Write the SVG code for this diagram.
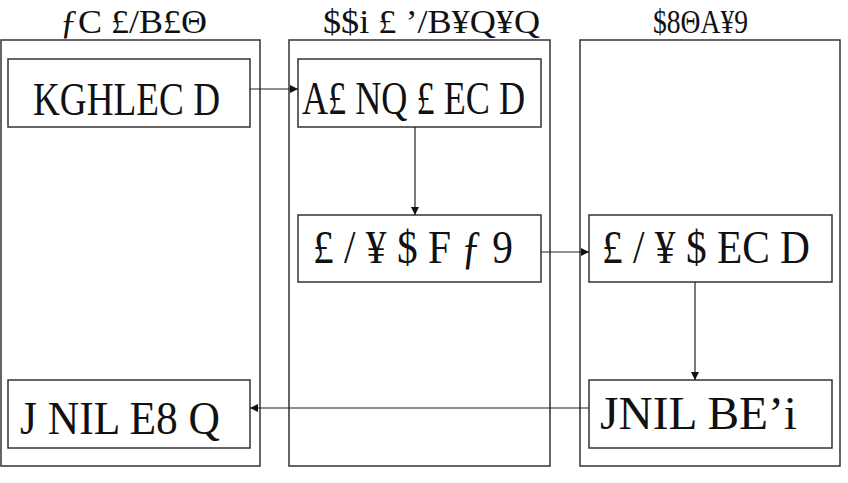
<svg xmlns="http://www.w3.org/2000/svg" width="848" height="483" viewBox="0 0 848 483">
<style>
.lane{fill:none;stroke:#333;stroke-width:1.5}
.box{fill:#fff;stroke:#333;stroke-width:1.5}
.t{font-family:"Liberation Serif","DejaVu Serif",serif;fill:#111}
.h{font-size:33px}
.n{font-size:46px}
.c{fill:none;stroke:#222;stroke-width:1.2}
</style>
<defs>
<marker id="ah" viewBox="0 0 10 10" refX="10" refY="5" markerWidth="8" markerHeight="8" markerUnits="userSpaceOnUse" orient="auto">
<path d="M0,0 L10,5 L0,10 z" fill="#111"/>
</marker>
</defs>
<g id="lanes">
<rect class="lane" x="1" y="40" width="259" height="426"/>
<rect class="lane" x="289" y="40" width="261" height="426"/>
<rect class="lane" x="580" y="40" width="260" height="426"/>
<text class="t h" x="60" y="33" textLength="147" lengthAdjust="spacingAndGlyphs">ƒC £/B£Θ</text>
<text class="t h" x="323" y="33" textLength="217" lengthAdjust="spacingAndGlyphs">$$i £  ’/B¥Q¥Q</text>
<text class="t h" x="653" y="33" textLength="95" lengthAdjust="spacingAndGlyphs">$8ΘA¥9</text>
</g>
<g id="n1"><rect class="box" x="8" y="59" width="242" height="68"/><text class="t n" x="33" y="115" textLength="187" lengthAdjust="spacingAndGlyphs">KGHLEC D</text></g>
<g id="n2"><rect class="box" x="298" y="59" width="243" height="68"/><text class="t n" x="302" y="114" textLength="223" lengthAdjust="spacingAndGlyphs">A£ NQ £ EC D</text></g>
<g id="n3"><rect class="box" x="298" y="215" width="243" height="67"/><text class="t n" x="313" y="263" textLength="200" lengthAdjust="spacingAndGlyphs">£ / ¥ $ F ƒ 9</text></g>
<g id="n4"><rect class="box" x="589" y="215" width="243" height="67"/><text class="t n" x="602" y="263" textLength="208" lengthAdjust="spacingAndGlyphs">£ / ¥ $ EC D</text></g>
<g id="n5"><rect class="box" x="8" y="380" width="242" height="68"/><text class="t n" x="20" y="434" textLength="200" lengthAdjust="spacingAndGlyphs">J NIL E8 Q</text></g>
<g id="n6"><rect class="box" x="589" y="380" width="243" height="68"/><text class="t n" x="600" y="429" textLength="197" lengthAdjust="spacingAndGlyphs">JNIL BE’i</text></g>
<g id="connectors">
<line class="c" x1="250" y1="89" x2="298" y2="89" marker-end="url(#ah)"/>
<line class="c" x1="415" y1="127" x2="415" y2="215" marker-end="url(#ah)"/>
<line class="c" x1="541" y1="252" x2="589" y2="252" marker-end="url(#ah)"/>
<line class="c" x1="695" y1="282" x2="695" y2="380" marker-end="url(#ah)"/>
<line class="c" x1="589" y1="408" x2="250" y2="408" marker-end="url(#ah)"/>
</g>
</svg>
